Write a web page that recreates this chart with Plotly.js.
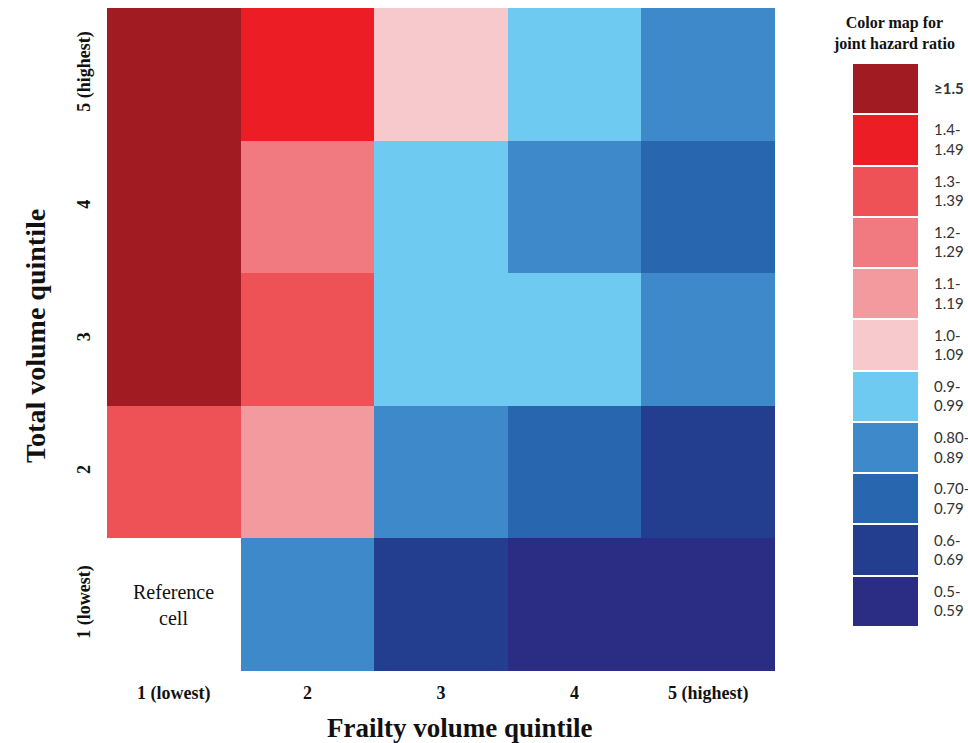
<!DOCTYPE html>
<html>
<head>
<meta charset="utf-8">
<script src="https://cdn.plot.ly/plotly-3.0.1.min.js"></script>
<style>html,body{margin:0;padding:0;background:#fff;}#chart{width:968px;height:743px;}</style>
</head>
<body>
<div id="chart"></div>
<script>
// Hazard ratio bins, lowest to highest
var binLabels = ["0.5-<br>0.59", "0.6-<br>0.69", "0.70-<br>0.79", "0.80-<br>0.89", "0.9-<br>0.99",
                 "1.0-<br>1.09", "1.1-<br>1.19", "1.2-<br>1.29", "1.3-<br>1.39", "1.4-<br>1.49", "<b>≥1.5</b>"];
var binColors = ["#2b2d84", "#233e8f", "#2866b0", "#3e89c9", "#6ecaf0",
                 "#f8c9cc", "#f39a9e", "#f07a80", "#ee5256", "#ec1d25", "#a01c22"];

var frailtyQuintiles = ["1 (lowest)", "2", "3", "4", "5 (highest)"];
var totalQuintiles = ["1 (lowest)", "2", "3", "4", "5 (highest)"];

// Bin index of the joint hazard ratio for each cell; rows = total volume quintile 1..5,
// columns = frailty volume quintile 1..5. null = reference cell.
var row1 = [null, 3, 1, 0, 0];
var row2 = [8, 6, 3, 2, 1];
var row3 = [10, 8, 4, 4, 3];
var row4 = [10, 7, 4, 3, 2];
var row5 = [10, 9, 5, 4, 3];

var n = binColors.length;
var colorscale = [];
binColors.forEach(function (c, i) {
  colorscale.push([i / n, c]);
  colorscale.push([(i + 1) / n, c]);
});

var W = 968, H = 743;
var mL = 107, mR = 50, mT = 8, mB = 72;
var pw = W - mL - mR, ph = H - mT - mB;
var px = function (x) { return (x - mL) / pw; };
var py = function (y) { return (H - mB - y) / ph; };

var serif = "Liberation Serif, Times New Roman, serif";

var main = {
  type: "heatmap",
  x: frailtyQuintiles,
  y: totalQuintiles,
  z: [row1, row2, row3, row4, row5],
  zmin: -0.5, zmax: n - 0.5,
  colorscale: colorscale,
  showscale: false,
  hoverongaps: false,
  xaxis: "x", yaxis: "y"
};

var legendZ = binLabels.map(function (_, i) { return [i]; });
var legendY = binLabels.map(function (_, i) { return i; });
var legend = {
  type: "heatmap",
  x: [0],
  y: legendY,
  z: legendZ,
  zmin: -0.5, zmax: n - 0.5,
  colorscale: colorscale,
  showscale: false,
  ygap: 2,
  xaxis: "x2", yaxis: "y2"
};

var layout = {
  width: W, height: H,
  margin: {l: mL, r: mR, t: mT, b: mB, pad: 0},
  paper_bgcolor: "#ffffff",
  plot_bgcolor: "#ffffff",
  showlegend: false,
  xaxis: {
    domain: [0, px(775)],
    type: "category",
    showgrid: false, zeroline: false, showline: false,
    ticks: "outside", ticklen: 5, tickcolor: "rgba(0,0,0,0)",
    tickfont: {family: serif, size: 18, color: "#111"},
    tickprefix: "<b>", ticksuffix: "</b>",
    fixedrange: true
  },
  yaxis: {
    domain: [0, 1],
    type: "category",
    showgrid: false, zeroline: false, showline: false,
    ticks: "outside", ticklen: 9, tickcolor: "rgba(0,0,0,0)",
    tickangle: -90,
    tickfont: {family: serif, size: 18, color: "#111"},
    tickprefix: "<b>", ticksuffix: "</b>",
    fixedrange: true
  },
  xaxis2: {
    domain: [px(853), px(918)],
    anchor: "y2",
    showgrid: false, zeroline: false, showline: false, showticklabels: false, ticks: "",
    fixedrange: true
  },
  yaxis2: {
    domain: [py(627), py(63)],
    anchor: "x2",
    side: "right",
    showgrid: false, zeroline: false, showline: false,
    tickvals: legendY,
    ticktext: binLabels,
    ticks: "outside", ticklen: 12, tickcolor: "rgba(0,0,0,0)",
    tickfont: {family: "Lato, Noto Sans, sans-serif", size: 15, color: "#333"},
    fixedrange: true
  },
  annotations: [
    {text: "Reference<br>cell", x: frailtyQuintiles[0], y: totalQuintiles[0], xref: "x", yref: "y",
     showarrow: false, font: {family: serif, size: 20, color: "#111"}},
    {text: "<b>Frailty volume quintile</b>", xref: "paper", yref: "paper",
     x: px(460), y: py(728), xanchor: "center", yanchor: "middle", showarrow: false,
     font: {family: serif, size: 27, color: "#111"}},
    {text: "<b>Total volume quintile</b>", xref: "paper", yref: "paper",
     x: px(35), y: py(336), xanchor: "center", yanchor: "middle", textangle: -90, showarrow: false,
     font: {family: serif, size: 28, color: "#111"}},
    {text: "<b>Color map for<br>joint hazard ratio</b>", xref: "paper", yref: "paper",
     x: px(894), y: py(34), xanchor: "center", yanchor: "middle", showarrow: false,
     font: {family: serif, size: 16, color: "#111"}}
  ]
};

Plotly.newPlot("chart", [main, legend], layout, {displayModeBar: false, staticPlot: true});
</script>
</body>
</html>
